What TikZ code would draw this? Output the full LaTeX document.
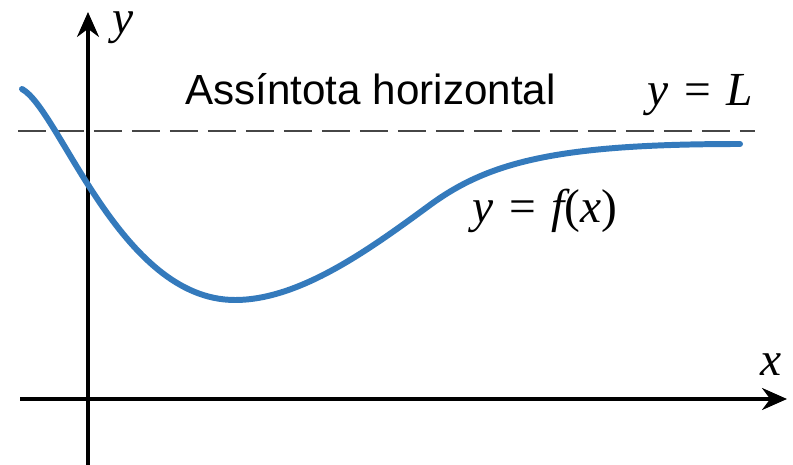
\documentclass[tikz,border=0pt]{standalone}
\usepackage{fontspec}
\setmainfont{Liberation Sans}
\newfontfamily\timesfont{Liberation Serif}
\usetikzlibrary{arrows.meta,positioning}
\definecolor{CurveBlue}{RGB}{52,122,188}
\definecolor{DashGray}{RGB}{70,70,70}
\newcommand{\eqvar}[1]{{\timesfont\itshape #1}}
\newcommand{\eqsign}{\hspace{0.33em}{\timesfont =}\hspace{0.33em}}
\tikzset{
  axisline/.style={line width=1.8pt,-{Stealth[length=0.5cm,width=0.44cm]}},
  asymline/.style={DashGray,line width=1.1pt,dash pattern=on 0.56cm off 0.2cm},
  curveline/.style={CurveBlue,line width=3.4pt,line cap=round},
  textlabel/.style={inner sep=0pt,anchor=base west,font=\fontsize{24}{28}\selectfont},
  mathlabel/.style={textlabel,font=\fontsize{27}{32}\selectfont}
}
\begin{document}
\begin{tikzpicture}[x=0.02cm,y=-0.02cm]
  \useasboundingbox (0,0) rectangle (793,465);
  \coordinate (xmin) at (20,399);
  \coordinate (xmax) at (787,399);
  \coordinate (ymin) at (88,465);
  \coordinate (ymax) at (88,12);
  \coordinate (asymL) at (18,131);
  \coordinate (asymR) at (755,131);
  \coordinate (fstart) at (22,89);
  \coordinate (fmin) at (235,300);
  \coordinate (fturn) at (430,205);
  \coordinate (fend) at (740,144);
  \draw[asymline] (asymL) -- (asymR);
  \draw[axisline] (xmin) -- (xmax);
  \draw[axisline] (ymin) -- (ymax);
  \draw[curveline] (fstart) .. controls (60,110) and (120,300) .. (fmin)
    .. controls (300,300) and (370,249) .. (fturn)
    .. controls (490,161) and (560,144) .. (fend);
  \node[textlabel] (title) at (185,105) {Assíntota horizontal};
  \node[mathlabel] (eqL) at (647,106) {\eqvar{y}\eqsign\eqvar{L}};
  \node[mathlabel] (eqf) at (472,223) {\eqvar{y}\eqsign\eqvar{f}{\timesfont (}\eqvar{x}{\timesfont )}};
  \node[mathlabel,text height=0.46em,text depth=0.22em] (ylab) at (112,34) {\eqvar{y}};
  \node[mathlabel] (xlab) at (760,375) {\eqvar{x}};
\end{tikzpicture}
\end{document}
